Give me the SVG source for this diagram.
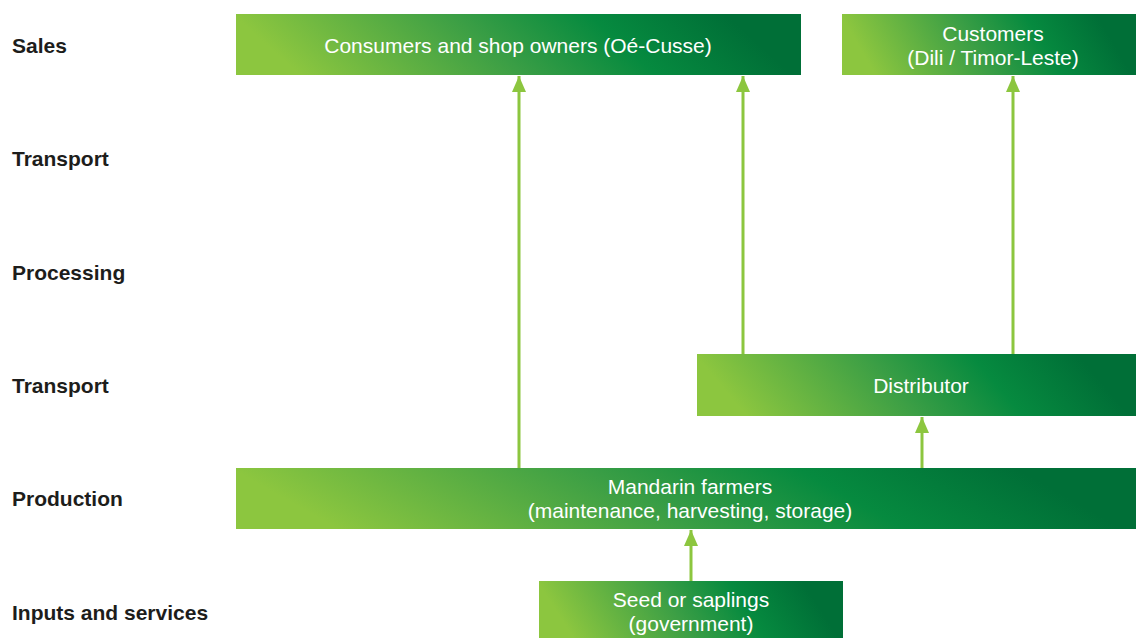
<svg xmlns="http://www.w3.org/2000/svg" width="1136" height="638" viewBox="0 0 1136 638">
<defs>
<linearGradient id="g" x1="0" y1="0.56" x2="1" y2="0.44">
<stop offset="0.06" stop-color="#8cc63f"/>
<stop offset="0.45" stop-color="#3a9e45"/>
<stop offset="0.68" stop-color="#068a3f"/>
<stop offset="0.92" stop-color="#006f37"/>
</linearGradient>
<marker id="ah" markerUnits="userSpaceOnUse" markerWidth="16" markerHeight="14" refX="16" refY="7" orient="auto" viewBox="0 0 16 14">
<path d="M0,0 L16,7 L0,14 Z" fill="#8cc63f"/>
</marker>
</defs>
<style>
.lbl{font-family:"Liberation Sans",Arial,sans-serif;font-weight:bold;font-size:21px;fill:#1d1d1b}
.box{fill:url(#g)}
.t{font-family:"Liberation Sans",Arial,sans-serif;font-size:21px;fill:#ffffff;text-anchor:middle}
.c{stroke:#8cc63f;stroke-width:3;fill:none}
</style>
<rect width="1136" height="638" fill="#ffffff"/>
<g id="labels">
<text class="lbl" x="12" y="53">Sales</text>
<text class="lbl" x="12" y="166">Transport</text>
<text class="lbl" x="12" y="280">Processing</text>
<text class="lbl" x="12" y="393">Transport</text>
<text class="lbl" x="12" y="506">Production</text>
<text class="lbl" x="12" y="620">Inputs and services</text>
</g>
<g id="consumers">
<rect class="box" x="236" y="14" width="565" height="61"/>
<text class="t" x="518" y="53">Consumers and shop owners (Oé-Cusse)</text>
</g>
<g id="customers">
<rect class="box" x="842" y="14" width="294" height="61"/>
<text class="t" x="993" y="41">Customers</text>
<text class="t" x="993" y="65">(Dili / Timor-Leste)</text>
</g>
<g id="distributor">
<rect class="box" x="697" y="354" width="439" height="62"/>
<text class="t" x="921" y="393">Distributor</text>
</g>
<g id="farmers">
<rect class="box" x="236" y="468" width="900" height="61"/>
<text class="t" x="690" y="494">Mandarin farmers</text>
<text class="t" x="690" y="518">(maintenance, harvesting, storage)</text>
</g>
<g id="seed">
<rect class="box" x="539" y="581" width="304" height="57"/>
<text class="t" x="691" y="607">Seed or saplings</text>
<text class="t" x="691" y="631">(government)</text>
</g>
<g id="connectors">
<line class="c" x1="519" y1="468" x2="519" y2="76" marker-end="url(#ah)"/>
<line class="c" x1="743" y1="354" x2="743" y2="76" marker-end="url(#ah)"/>
<line class="c" x1="1013" y1="354" x2="1013" y2="76" marker-end="url(#ah)"/>
<line class="c" x1="922" y1="468" x2="922" y2="417" marker-end="url(#ah)"/>
<line class="c" x1="691" y1="581" x2="691" y2="530" marker-end="url(#ah)"/>
</g>
</svg>
